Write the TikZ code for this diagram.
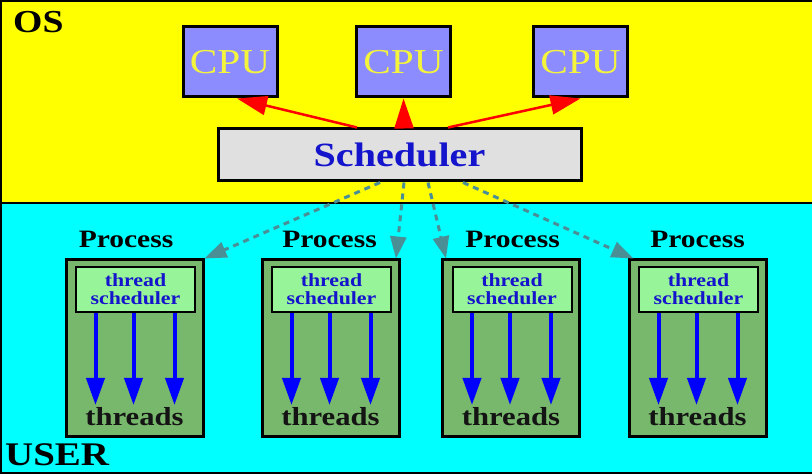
\documentclass[tikz,border=0pt]{standalone}
\usepackage{fontspec}
\setmainfont[FakeStretch=1.18]{Liberation Serif}
\usepackage{tikz}
\usetikzlibrary{arrows.meta}

\definecolor{osyellow}{HTML}{FFFF00}
\definecolor{usercyan}{HTML}{00FFFF}
\definecolor{cpublue}{HTML}{8C8CFF}
\definecolor{cputext}{HTML}{F4F43C}
\definecolor{schedgrey}{HTML}{E0E0E0}
\definecolor{schedtext}{HTML}{1414CC}
\definecolor{procgreen}{HTML}{78B86C}
\definecolor{tsgreen}{HTML}{98F498}
\definecolor{dispatch}{HTML}{4A8E96}

\begin{document}
\begin{tikzpicture}[x=1pt, y=1pt,
	cpubox/.style={draw, line width=3pt, fill=cpublue, text=cputext, minimum width=94pt, minimum height=70pt, inner sep=0pt, font=\fontsize{35}{40}\selectfont},
	schedbox/.style={draw, line width=3pt, fill=schedgrey, text=schedtext, minimum width=363pt, minimum height=52pt, inner sep=0pt, font=\fontsize{34}{40}\selectfont\bfseries},
	procbox/.style={draw, line width=3pt, fill=procgreen, minimum width=137pt, minimum height=177pt, inner sep=0pt},
	tsbox/.style={draw, line width=2pt, fill=tsgreen, text=schedtext, minimum width=119pt, minimum height=45pt, inner sep=0pt, align=center, font=\fontsize{18.5}{18}\selectfont\bfseries},
	proclabel/.style={anchor=base, inner sep=0pt, font=\fontsize{25}{30}\selectfont\bfseries},
	thrlabel/.style={anchor=base, inner sep=0pt, text=black!92, font=\fontsize{26}{30}\selectfont\bfseries},
	toCPU/.style={red, line width=2.5pt, -{Triangle[length=30pt, width=19pt]}},
	toProc/.style={dispatch, line width=3pt, dash pattern=on 6pt off 5pt, -{Triangle[length=22pt, width=16pt]}},
	thr/.style={blue, line width=4pt, -{Triangle[length=27pt, width=18pt]}}]
	
	\useasboundingbox (0,0) rectangle (812,474);
	
	% OS and USER areas
	\fill[osyellow] (0,271) rectangle (812,474);
	\fill[usercyan] (0,0) rectangle (812,271);
	\draw[line width=2pt] (0,271) -- (812,271);
	\draw[line width=4pt] (812,474) -- (0,474) -- (0,0) -- (812,0);
	
	\node[anchor=base west, inner sep=0pt, font=\fontsize{32}{36}\selectfont\bfseries] (os) at (13,441) {OS};
	\node[anchor=base west, inner sep=0pt, font=\fontsize{33}{36}\selectfont\bfseries] (user) at (5,8) {USER};
	
	% CPUs and scheduler
	\node[cpubox] (cpu1) at (230,412) {CPU};
	\node[cpubox] (cpu2) at (403.5,412) {CPU};
	\node[cpubox] (cpu3) at (580.5,412) {CPU};
	
	\node[schedbox] (sched) at (399.5,319) {Scheduler};
	
	\draw[toCPU] ([xshift=-42.5pt]sched.north) -- ([xshift=7pt]cpu1.south);
	\draw[toCPU] ([xshift=4.5pt]sched.north) -- (cpu2.south);
	\draw[toCPU] ([xshift=48.5pt]sched.north) -- (cpu3.south);
	
	% processes
	\node[procbox] (p1) at (134.5,125.5) {};
	\node[procbox] (p2) at (330.5,125.5) {};
	\node[procbox] (p3) at (511,125.5) {};
	\node[procbox] (p4) at (697.5,125.5) {};
	
	\node[proclabel] (pl1) at (126,226) {Process};
	\node[proclabel] (pl2) at (329.5,226) {Process};
	\node[proclabel] (pl3) at (512.5,226) {Process};
	\node[proclabel] (pl4) at (697.5,226) {Process};
	
	\node[tsbox] (ts1) at (135.5,184.5) {thread\\scheduler};
	\node[tsbox] (ts2) at (331.5,184.5) {thread\\scheduler};
	\node[tsbox] (ts3) at (512,184.5) {thread\\scheduler};
	\node[tsbox] (ts4) at (698.5,184.5) {thread\\scheduler};
	
	\node[thrlabel] (th1) at (134.5,48) {threads};
	\node[thrlabel] (th2) at (330.5,48) {threads};
	\node[thrlabel] (th3) at (511,48) {threads};
	\node[thrlabel] (th4) at (697.5,48) {threads};
	
	\draw[toProc] ([xshift=-19.5pt]sched.south) -- (p1.north east);
	\draw[toProc] ([xshift=4.5pt]sched.south) -- ([xshift=-4.5pt]p2.north east);
	\draw[toProc] ([xshift=28.5pt]sched.south) -- ([xshift=5pt]p3.north west);
	\draw[toProc] ([xshift=63.5pt]sched.south) -- ([xshift=6pt]p4.north west);
	
	% threads
	\draw[thr] ([xshift=-40pt]ts1.south) -- ([xshift=-40pt, yshift=-92pt]ts1.south);
	\draw[thr] ([xshift=-2pt]ts1.south) -- ([xshift=-2pt, yshift=-92pt]ts1.south);
	\draw[thr] ([xshift=39pt]ts1.south) -- ([xshift=39pt, yshift=-92pt]ts1.south);
	
	\draw[thr] ([xshift=-40pt]ts2.south) -- ([xshift=-40pt, yshift=-92pt]ts2.south);
	\draw[thr] ([xshift=-2pt]ts2.south) -- ([xshift=-2pt, yshift=-92pt]ts2.south);
	\draw[thr] ([xshift=39pt]ts2.south) -- ([xshift=39pt, yshift=-92pt]ts2.south);
	
	\draw[thr] ([xshift=-40pt]ts3.south) -- ([xshift=-40pt, yshift=-92pt]ts3.south);
	\draw[thr] ([xshift=-2pt]ts3.south) -- ([xshift=-2pt, yshift=-92pt]ts3.south);
	\draw[thr] ([xshift=39pt]ts3.south) -- ([xshift=39pt, yshift=-92pt]ts3.south);
	
	\draw[thr] ([xshift=-40pt]ts4.south) -- ([xshift=-40pt, yshift=-92pt]ts4.south);
	\draw[thr] ([xshift=-2pt]ts4.south) -- ([xshift=-2pt, yshift=-92pt]ts4.south);
	\draw[thr] ([xshift=39pt]ts4.south) -- ([xshift=39pt, yshift=-92pt]ts4.south);
	
\end{tikzpicture}
\end{document}
